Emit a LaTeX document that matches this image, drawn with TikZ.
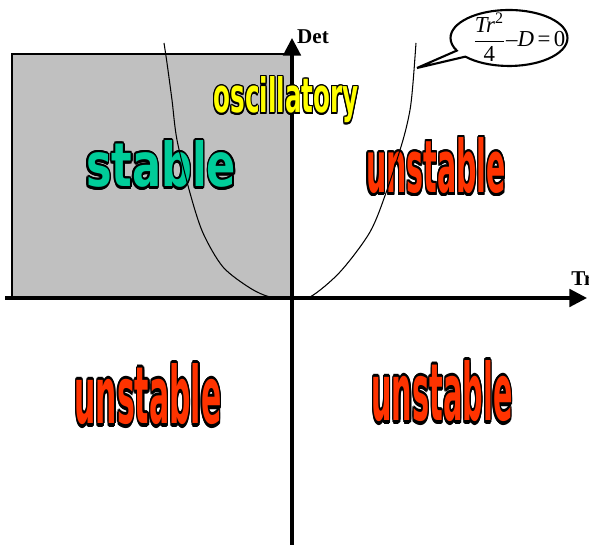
\documentclass[tikz,border=0pt]{standalone}
\usepackage{fontspec}
\setmainfont{Liberation Serif}
\newfontfamily\artfont{DejaVu Sans}
\usepackage{amsmath}
\usepackage{graphicx}
\usepackage{contour}
\usepackage{tikz}
\usetikzlibrary{arrows.meta, shapes.callouts, positioning}
\definecolor{StableTeal}{HTML}{00CC99}
\definecolor{UnstableRed}{HTML}{FF3300}
\definecolor{OscYellow}{HTML}{FFFF00}
\definecolor{RegionGray}{HTML}{C0C0C0}
\contourlength{1.6pt}
\newcommand{\wordart}[4]{\resizebox{#2}{#3}{\textcolor{#1}{\contour{black}{\artfont\bfseries\fontsize{40}{44}\selectfont #4}}}}

\begin{document}
\begin{tikzpicture}[x=0.02cm, y=-0.02cm,
    axis/.style={line width=1.8pt, -{Triangle[width=10pt, length=10pt]}},
    lbl/.style={font=\bfseries\fontsize{12}{14}\selectfont, inner sep=0pt}]
    \useasboundingbox (0,0) rectangle (589,546);
    \coordinate (O) at (292,298);
    \coordinate (yBot) at (292,545);
    \coordinate (yTop) at (292,38);
    \coordinate (xLeft) at (5,298);
    \coordinate (xRight) at (587,298);
    % stable quadrant
    \filldraw[fill=RegionGray, draw=black, line width=0.6pt] (12,54) rectangle (O);
    \draw[axis] (yBot) -- (yTop);
    \draw[axis] (xLeft) -- (xRight);
    \node[lbl] (det) at (313,37) {Det};
    \node[lbl, anchor=west] (tr) at (571,279) {Tr};
    % region names
    \node[anchor=base] (stable) at (161,187) {\wordart{StableTeal}{3cm}{0.92cm}{stable}};
    \node[anchor=base] (oscil) at (286,113) {\wordart{OscYellow}{2.9cm}{0.72cm}{oscillatory}};
    \node[anchor=base] (unstTR) at (436,193) {\wordart{UnstableRed}{2.8cm}{1.1cm}{unstable}};
    \node[anchor=base] (unstBL) at (148,424) {\wordart{UnstableRed}{2.94cm}{1.2cm}{unstable}};
    \node[anchor=base] (unstBR) at (442,421) {\wordart{UnstableRed}{2.82cm}{1.2cm}{unstable}};
    % Tr^2/4 - D = 0
    \draw[line width=0.6pt] plot[smooth] coordinates {(164,43) (167,63) (172,100) (177,140)
      (190,193) (203,233) (223,267) (250,288) (270,297) (290,298) (310,297) (340,272)
      (370,232) (387,190) (403,140) (410,110) (413,83) (416,43)};
    \coordinate (tip) at (417,68);
    \node[ellipse callout, draw, fill=white, line width=1.2pt, minimum width=2.34cm,
          minimum height=1.12cm, callout absolute pointer=(tip)] (bubble) at (509,38) {};
    \node[inner sep=0pt, font=\fontsize{13}{15}\selectfont] (eqn) at (519,37)
      {$\dfrac{\textit{Tr}^{\text{2}}}{\text{4}}\text{--}\textit{D}\,\text{=}\,\text{0}$};
\end{tikzpicture}
\end{document}
